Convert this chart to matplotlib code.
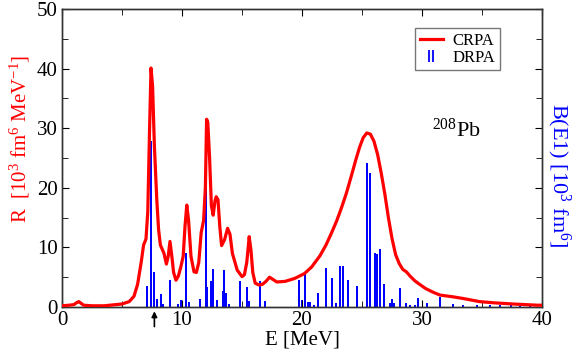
import matplotlib

matplotlib.use("Agg")
import matplotlib.pyplot as plt
from matplotlib.lines import Line2D
from matplotlib.path import Path
from matplotlib.ticker import MultipleLocator

# CRPA strength function R(E)  [10^3 fm^6 MeV^-1]
crpa_e = [0.0, 0.6, 1.0, 1.2, 1.4, 1.6, 1.8, 2.5, 3.5, 5.0, 5.6, 6.0, 6.3,
          6.6, 6.8, 7.0, 7.15, 7.3, 7.42, 7.55, 7.7, 7.9, 8.05, 8.2, 8.5,
          8.7, 8.85, 9.0, 9.15, 9.3, 9.5, 9.7, 9.9, 10.1, 10.25, 10.4, 10.55,
          10.75, 11.0, 11.2, 11.4, 11.6, 11.8, 11.95, 12.05, 12.15, 12.3,
          12.45, 12.6, 12.75, 12.85, 13.0, 13.15, 13.3, 13.55, 13.8, 14.0,
          14.2, 14.6, 15.0, 15.2, 15.4, 15.6, 15.75, 15.9, 16.1, 16.4, 16.7,
          17.0, 17.3, 17.6, 17.9, 18.6, 19.4, 20.2, 20.8, 21.5, 22.0, 22.5,
          22.9, 23.3, 23.7, 24.1, 24.5, 24.8, 25.1, 25.4, 25.7, 26.0, 26.3,
          26.6, 26.9, 27.2, 27.5, 27.8, 28.1, 28.4, 28.7, 29.0, 29.4, 29.8,
          30.3, 30.9, 31.5, 32.6, 33.5, 34.8, 36.0, 37.6, 39.6, 40.0]
crpa_r = [0.2, 0.3, 0.4, 0.7, 0.9, 0.6, 0.3, 0.2, 0.2, 0.5, 0.9, 1.8, 3.8,
          7.5, 10.4, 11.4, 16.0, 30.0, 40.1, 37.0, 27.0, 18.0, 13.0, 10.4,
          9.0, 7.2, 8.5, 11.0, 8.6, 5.8, 4.5, 5.2, 6.7, 8.5, 13.5, 17.1, 14.5,
          8.5, 5.9, 5.8, 7.5, 12.5, 14.5, 20.0, 31.5, 31.0, 25.0, 17.0, 15.4,
          17.8, 18.5, 18.0, 13.5, 10.3, 11.3, 13.2, 12.2, 9.0, 6.2, 5.1, 5.4,
          7.5, 11.8, 9.5, 5.8, 4.0, 3.7, 3.8, 4.3, 5.0, 4.6, 4.2, 4.3, 4.8,
          5.6, 6.7, 8.6, 10.4, 12.6, 14.5, 16.7, 19.1, 21.9, 24.8, 26.8, 28.4,
          29.2, 29.0, 27.8, 25.6, 22.5, 19.0, 15.0, 11.5, 8.8, 7.3, 6.3, 5.9,
          5.2, 4.4, 3.8, 3.1, 2.5, 2.0, 1.7, 1.4, 0.9, 0.7, 0.5, 0.3, 0.3]

# DRPA discrete B(E1) strengths  [10^3 fm^6]
drpa_e = [7.06, 7.39, 7.67, 7.89, 8.22, 8.44, 9.0, 9.7, 9.9, 10.3, 10.6,
          11.5, 12.0, 12.1, 12.4, 12.55, 12.9, 13.4, 13.5, 13.65, 13.95,
          14.8, 15.4, 15.6, 16.5, 16.9, 19.75, 20.0, 20.25, 20.5, 20.7, 21.0,
          21.3, 22.0, 22.5, 22.8, 23.2, 23.4, 23.8, 24.6, 25.45, 25.7, 26.1,
          26.25, 26.5, 26.8, 27.3, 27.5, 27.7, 28.2, 28.7, 29.0, 29.4, 29.7,
          30.4, 31.5, 32.6, 33.4, 34.6, 35.7, 36.5, 37.4, 38.2, 39.0]
drpa_b = [3.6, 27.8, 5.8, 1.3, 2.1, 0.5, 4.5, 0.5, 1.1, 9.1, 0.8,
          1.4, 23.0, 3.4, 4.3, 6.3, 1.1, 2.7, 6.2, 2.3, 0.5,
          4.3, 3.4, 0.95, 4.3, 0.95, 4.5, 1.2, 5.6, 0.8, 0.8, 0.4,
          2.4, 6.5, 4.8, 0.6, 6.8, 6.8, 4.6, 3.6, 24.2, 22.4, 9.1,
          8.9, 9.8, 3.9, 0.7, 1.4, 0.6, 3.2, 0.6, 0.4, 0.4, 1.5,
          0.7, 1.7, 0.5, 0.4, 0.3, 0.3, 0.3, 0.3, 0.2, 0.3]

plt.rcParams.update({
    "font.family": "serif",
    "font.serif": ["Liberation Serif", "DejaVu Serif"],
    "mathtext.fontset": "custom",
    "mathtext.rm": "Liberation Serif",
    "mathtext.it": "Liberation Serif:italic",
})

fig = plt.figure(figsize=(5.75, 3.54), dpi=100)
ax = fig.add_axes([0.1078, 0.1328, 0.8348, 0.8418])
ax2 = ax.twinx()

ax2.bar(drpa_e, drpa_b, width=0.18, color="#0000ff", linewidth=0, zorder=2)
ax.plot(crpa_e, crpa_r, color="#ff0000", lw=2.3, zorder=3,
        solid_joinstyle="round")
ax.set_zorder(ax2.get_zorder() + 1)
ax.patch.set_visible(False)

for a in (ax, ax2):
    a.set_xlim(0, 40)
    a.set_ylim(0, 50)
    for spine in a.spines.values():
        spine.set_color("#333333")
        spine.set_linewidth(1.0)
ax.xaxis.set_major_locator(MultipleLocator(10))
ax.xaxis.set_minor_locator(MultipleLocator(5))
ax.yaxis.set_major_locator(MultipleLocator(10))
ax.yaxis.set_minor_locator(MultipleLocator(5))
ax2.yaxis.set_major_locator(MultipleLocator(10))
ax2.yaxis.set_minor_locator(MultipleLocator(5))
ax.tick_params(which="both", direction="in", top=True, right=False,
               labelsize=15, pad=3)
ax.tick_params(which="major", length=5)
ax.tick_params(which="minor", length=4)
ax2.tick_params(which="both", direction="in", labelright=False)
ax2.tick_params(which="major", length=5)
ax2.tick_params(which="minor", length=4)

ax.set_xlabel("E [MeV]", fontsize=15, labelpad=0)
fig.text(20 / 575, 1 - 139 / 354, r"R  [10$^3$ fm$^6$ MeV$^{-1}$]",
         color="#ff0000", fontsize=15, rotation=90, ha="center", va="center")
fig.text(559 / 575, 1 - 175 / 354, r"B(E1) [10$^3$ fm$^6$]",
         color="#0000ff", fontsize=16, rotation=-90, ha="center",
         va="center")

ax.text(30.8, 28.5, r"$^{208}$Pb", fontsize=16)

# arrow marking the low-lying strength
ax.annotate("", xy=(7.7, -0.005), xytext=(7.7, -0.075),
            xycoords=("data", "axes fraction"),
            textcoords=("data", "axes fraction"),
            arrowprops=dict(arrowstyle="-|>", color="black", lw=1.2,
                            mutation_scale=8),
            annotation_clip=False)

bars_marker = Path([(-0.35, -1), (-0.35, 1), (0.35, -1), (0.35, 1)],
                   [Path.MOVETO, Path.LINETO, Path.MOVETO, Path.LINETO])
handles = [
    Line2D([0], [0], color="#ff0000", lw=2.3, label="CRPA"),
    Line2D([0], [0], ls="none", marker=bars_marker, ms=9, mew=1.3,
           mec="#0000ff", label="DRPA"),
]
leg = ax.legend(handles=handles, loc="upper right",
                bbox_to_anchor=(0.912, 0.935), fontsize=12, fancybox=False,
                edgecolor="#555555", handlelength=1.4, handletextpad=0.6,
                borderpad=0.25, labelspacing=0.1, borderaxespad=0)
leg.get_frame().set_linewidth(1.0)

fig.savefig("out.png", dpi=100)
